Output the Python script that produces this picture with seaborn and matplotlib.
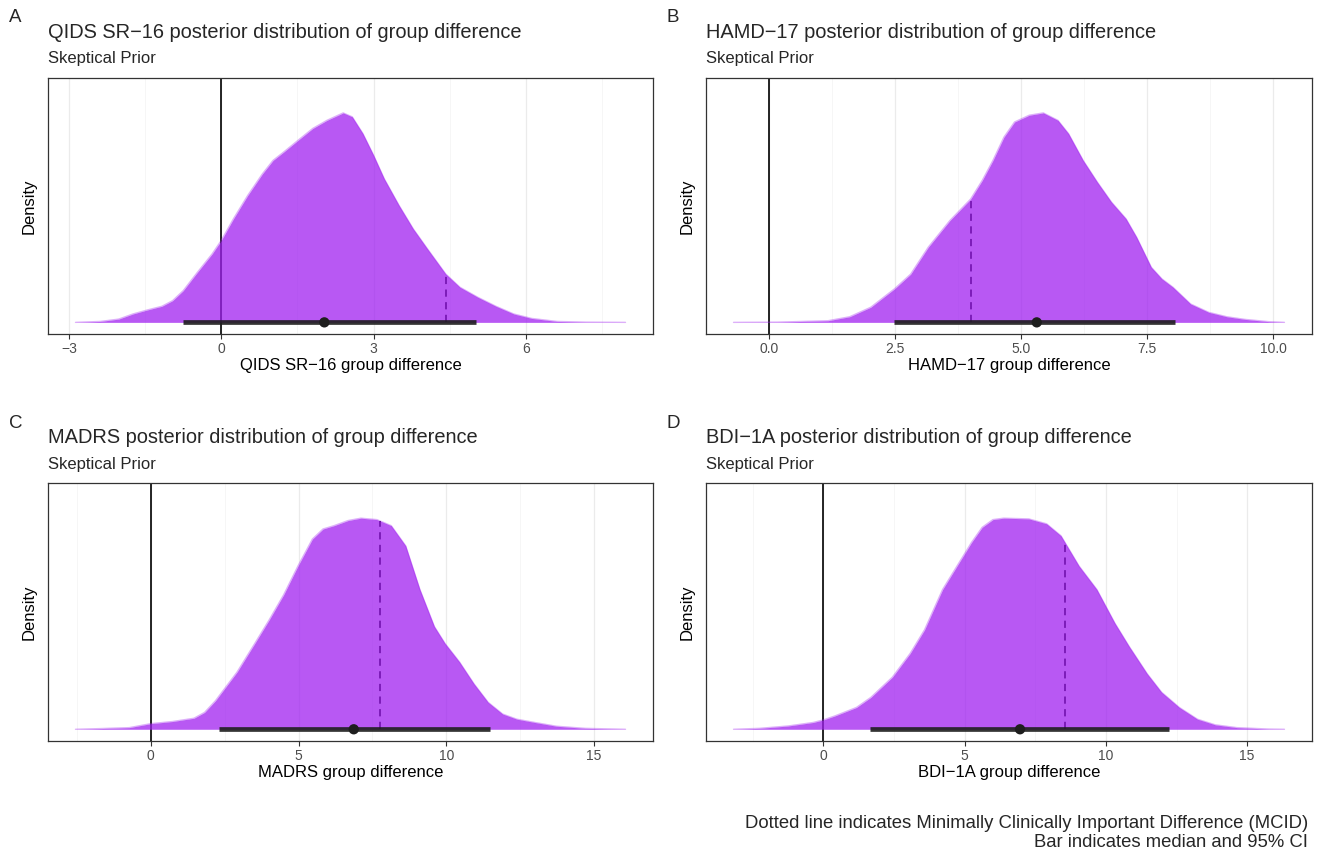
import numpy as np
import matplotlib
matplotlib.use("Agg")
import matplotlib.pyplot as plt
import seaborn as sns

# ---- data (slab height scaled so that the peak = 0.9) ----
qids_x = [-2.87, -2.38, -2.02, -1.74, -1.46, -1.17, -0.96, -0.75, -0.47, -0.18, 0.0, 0.24, 0.52,
          0.81, 1.02, 1.23, 1.51, 1.80, 2.08, 2.40, 2.58, 2.79, 3.00, 3.21, 3.50, 3.78, 4.06,
          4.42, 4.70, 5.05, 5.41, 5.76, 6.11, 6.61, 7.18, 7.96]
qids_d = [0.0, 0.004, 0.014, 0.036, 0.053, 0.069, 0.093, 0.136, 0.215, 0.294, 0.352, 0.445,
          0.545, 0.638, 0.696, 0.732, 0.782, 0.833, 0.868, 0.90, 0.883, 0.811, 0.718, 0.617,
          0.503, 0.402, 0.316, 0.208, 0.151, 0.108, 0.069, 0.036, 0.017, 0.004, 0.001, 0.0]
qids_ci = [-0.75, 2.03, 5.02]   # low, median, high
qids_mcid = 4.42

hamd_x = [-0.70, 0.17, 1.17, 1.60, 2.02, 2.49, 2.81, 3.16, 3.59, 4.00, 4.23, 4.44, 4.66, 4.87,
          5.16, 5.44, 5.73, 5.94, 6.23, 6.51, 6.79, 7.08, 7.29, 7.58, 7.79, 8.01, 8.36, 8.72,
          9.08, 9.43, 9.91, 10.22]
hamd_d = [0.0, 0.001, 0.007, 0.024, 0.065, 0.144, 0.207, 0.323, 0.438, 0.53, 0.61, 0.695,
          0.796, 0.861, 0.890, 0.90, 0.868, 0.811, 0.696, 0.603, 0.517, 0.445, 0.366, 0.237,
          0.187, 0.151, 0.079, 0.043, 0.024, 0.013, 0.003, 0.0]
hamd_ci = [2.48, 5.31, 8.06]
hamd_mcid = 4.0

madrs_x = [-2.55, -1.70, -0.73, 0.0, 0.73, 1.46, 1.82, 2.19, 2.92, 3.52, 4.01, 4.50, 4.98, 5.47,
           5.83, 6.20, 6.68, 7.11, 7.65, 8.14, 8.63, 9.11, 9.60, 9.96, 10.45, 10.94, 11.42,
           11.91, 12.39, 13.0, 13.73, 14.70, 16.07]
madrs_d = [0.0, 0.003, 0.007, 0.024, 0.033, 0.047, 0.072, 0.122, 0.244, 0.366, 0.467, 0.574,
           0.696, 0.811, 0.854, 0.868, 0.890, 0.90, 0.894, 0.868, 0.782, 0.596, 0.438, 0.366,
           0.287, 0.194, 0.115, 0.065, 0.043, 0.029, 0.013, 0.004, 0.0]
madrs_ci = [2.31, 6.87, 11.48]
madrs_mcid = 7.75

bdi_x = [-3.18, -2.26, -1.25, -0.36, 0.0, 0.41, 1.17, 1.68, 2.44, 3.07, 3.58, 4.22, 4.73, 5.24,
         5.62, 6.00, 6.38, 7.27, 7.90, 8.41, 9.05, 9.68, 10.32, 10.83, 11.46, 11.97, 12.60,
         13.24, 13.87, 14.64, 15.76, 16.32]
bdi_d = [0.0, 0.004, 0.014, 0.029, 0.040, 0.057, 0.093, 0.136, 0.222, 0.323, 0.424, 0.596,
         0.696, 0.796, 0.861, 0.894, 0.90, 0.897, 0.876, 0.825, 0.696, 0.596, 0.452, 0.352,
         0.237, 0.158, 0.093, 0.043, 0.019, 0.007, 0.001, 0.0]
bdi_ci = [1.64, 6.96, 12.22]
bdi_mcid = 8.55

panel_letters = ["A", "B", "C", "D"]
scale_names = ["QIDS SR\u221216", "HAMD\u221217", "MADRS", "BDI\u22121A"]
major_ticks = [[-3, 0, 3, 6], [0.0, 2.5, 5.0, 7.5, 10.0], [0, 5, 10, 15], [0, 5, 10, 15]]
tick_labels = [["\u22123", "0", "3", "6"], ["0.0", "2.5", "5.0", "7.5", "10.0"],
               ["0", "5", "10", "15"], ["0", "5", "10", "15"]]
subtitle = "Skeptical Prior"
caption = ("Dotted line indicates Minimally Clinically Important Difference (MCID)\n"
           "Bar indicates median and 95% CI")

panels = [(qids_x, qids_d, qids_ci, qids_mcid),
          (hamd_x, hamd_d, hamd_ci, hamd_mcid),
          (madrs_x, madrs_d, madrs_ci, madrs_mcid),
          (bdi_x, bdi_d, bdi_ci, bdi_mcid)]

sns.set_theme(style="white")
plt.rcParams['font.family'] = ['Liberation Sans', 'DejaVu Sans']

W, H = 1326, 857
fig = plt.figure(figsize=(W / 100, H / 100), dpi=100)

# axes boxes in pixels: left, top, right, bottom
boxes = [(48, 78, 653, 334), (706, 78, 1312, 334),
         (48, 483, 653, 741), (706, 483, 1312, 741)]

slab_color = "#A020F0"

for i, (xs, ds, ci, mcid) in enumerate(panels):
    l, t, r, b = boxes[i]
    ax = fig.add_axes([l / W, 1 - b / H, (r - l) / W, (b - t) / H])
    xs = np.array(xs)
    ds = np.array(ds)

    # grid (theme_bw style): major + minor vertical lines
    mt = major_ticks[i]
    step = mt[1] - mt[0]
    minor = [m + step / 2 for m in [mt[0] - step] + mt]
    ax.grid(False)
    for m in mt:
        ax.axvline(m, color="#EBEBEB", lw=0.9, zorder=0)
    for m in minor:
        ax.axvline(m, color="#F3F3F3", lw=0.5, zorder=0)

    # reference lines, drawn beneath the semi-transparent slab
    ax.axvline(0, color="black", lw=1.2, zorder=1)
    mcid_h = np.interp(mcid, xs, ds)
    ax.plot([mcid, mcid], [0, mcid_h], color="black", lw=1.3,
            linestyle=(0, (4, 3)), zorder=1)

    # posterior slab
    ax.fill_between(xs, 0, ds, color=slab_color, alpha=0.75, lw=0, zorder=2)
    sns.lineplot(x=xs, y=ds, color=slab_color, alpha=0.35, lw=1.0, ax=ax, zorder=2)

    # median and 95% interval
    ax.plot([ci[0], ci[2]], [0, 0], color="#1E1E1E", lw=3.4, alpha=0.9,
            solid_capstyle="butt", zorder=3)
    sns.scatterplot(x=[ci[1]], y=[0], color="#1E1E1E", s=55, edgecolor="none",
                    ax=ax, zorder=4)

    ax.set_xticks(mt)
    ax.set_xticklabels(tick_labels[i])
    rng = xs.max() - xs.min()
    ax.set_xlim(xs.min() - 0.05 * rng, xs.max() + 0.05 * rng)
    ax.set_ylim(-0.05, 1.05)
    ax.set_yticks([])
    ax.set_ylabel("Density", fontsize=12, color="black", labelpad=8)
    ax.set_xlabel(scale_names[i] + " group difference", fontsize=12, color="black",
                  labelpad=2)
    ax.tick_params(axis="x", which="major", bottom=True, length=3.5, width=0.8,
                   color="#333333", labelsize=10, labelcolor="#4D4D4D", pad=2)
    for sp in ax.spines.values():
        sp.set_color("#333333")
        sp.set_linewidth(0.9)

    # titles
    fig.text(l / W, 1 - (t - 45) / H, scale_names[i] + " posterior distribution of group difference",
             fontsize=14.4, ha="left", va="center")
    fig.text(l / W, 1 - (t - 19) / H, subtitle, fontsize=12, ha="left", va="center")
    fig.text((l - 39) / W, 1 - (t - 60) / H, panel_letters[i], fontsize=13.5,
             ha="left", va="center")

fig.text(1308 / W, 1 - 833 / H, caption, fontsize=13.3, ha="right", va="center",
         linespacing=1.1)

fig.savefig("out.png", dpi=100)
